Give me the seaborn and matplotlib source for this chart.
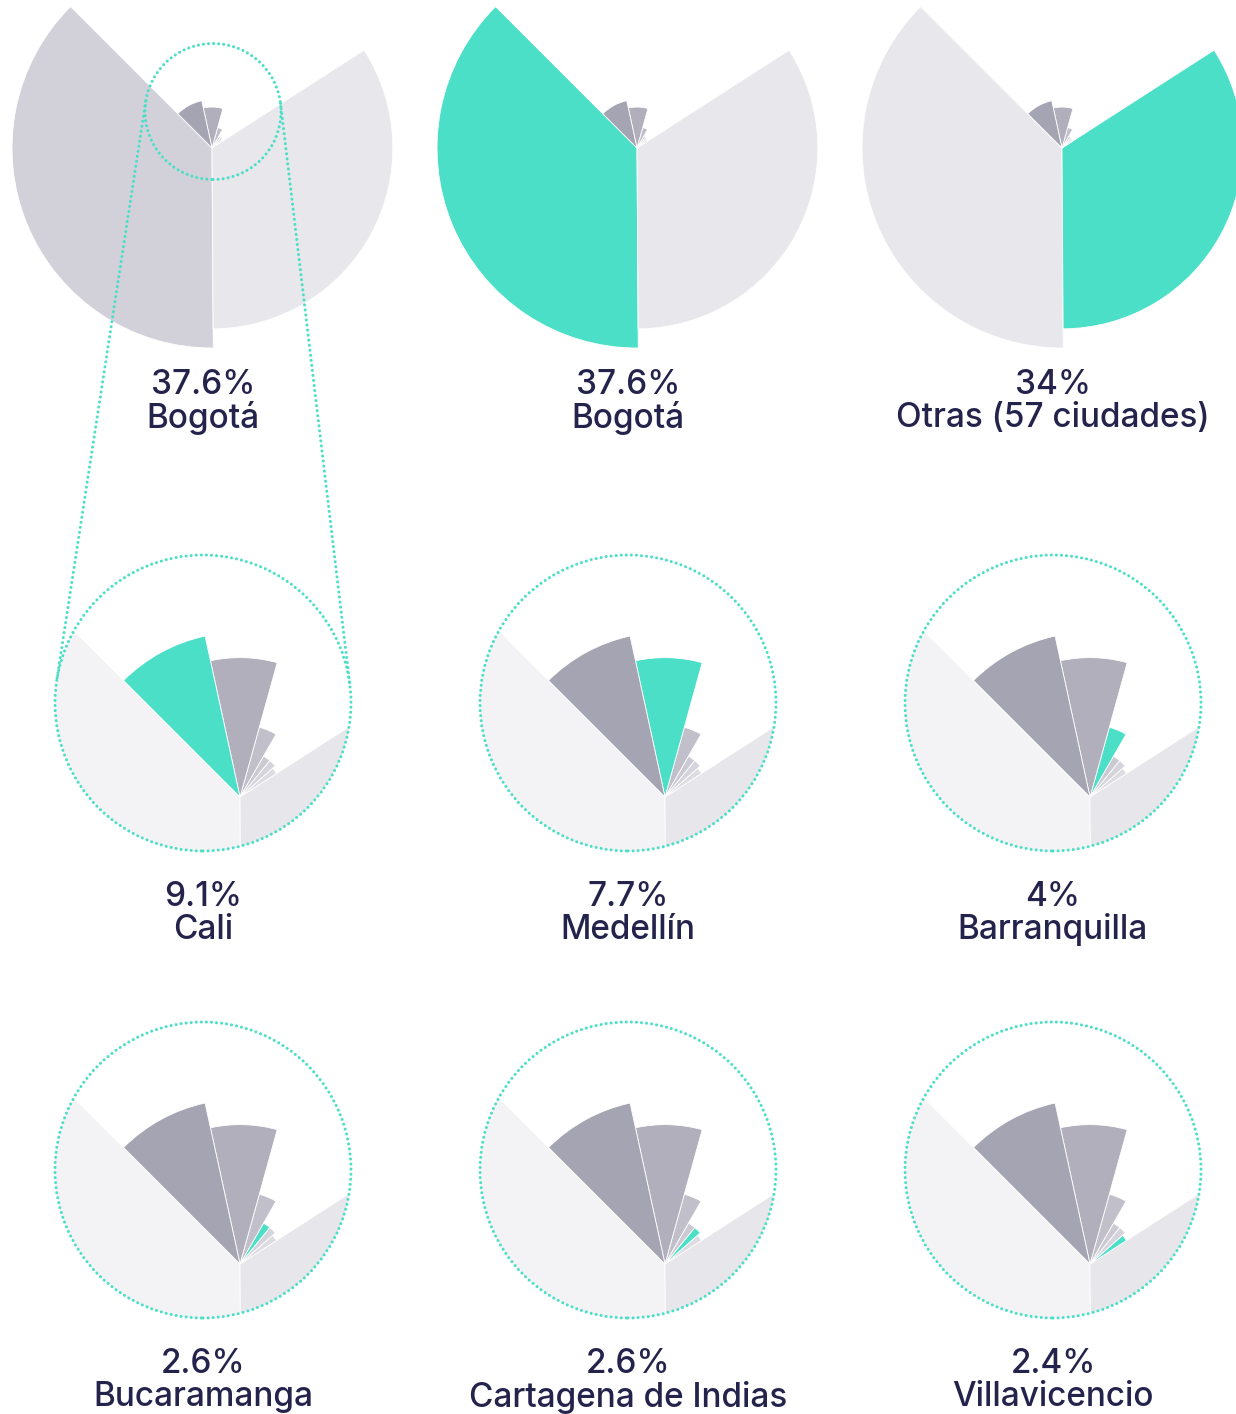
import numpy as np
import matplotlib
matplotlib.use("Agg")
import matplotlib.pyplot as plt
from matplotlib.patches import Wedge, Circle
import seaborn as sns

# share of companies by city (%)
cities = ["Bogotá", "Otras (57 ciudades)", "Cali", "Medellín", "Barranquilla",
          "Bucaramanga", "Cartagena de Indias", "Villavicencio"]
shares = [37.6, 34, 9.1, 7.7, 4, 2.6, 2.6, 2.4]

# order of the slices, counter-clockwise starting at the north-west
rose_order = ["Bogotá", "Otras (57 ciudades)", "Villavicencio", "Cartagena de Indias",
              "Bucaramanga", "Barranquilla", "Medellín", "Cali"]

# which city each panel highlights (None = overview)
panel_city = [None, "Bogotá", "Otras (57 ciudades)",
              "Cali", "Medellín", "Barranquilla",
              "Bucaramanga", "Cartagena de Indias", "Villavicencio"]
panel_label = ["Bogotá", "Bogotá", "Otras (57 ciudades)",
               "Cali", "Medellín", "Barranquilla",
               "Bucaramanga", "Cartagena de Indias", "Villavicencio"]

TEAL = "#4cdfc7"
TEXT = "#24234c"
small_colors = {"Cali": "#a5a4b2", "Medellín": "#b0afbb", "Barranquilla": "#c0bfca",
                "Bucaramanga": "#cbcad3", "Cartagena de Indias": "#d5d4dc",
                "Villavicencio": "#dddce3"}

sns.set_style("white")
plt.rcParams["font.family"] = ["Inter", "DejaVu Sans"]

W, H = 1236, 1414
fig = plt.figure(figsize=(W / 100, H / 100), dpi=100)
ax = fig.add_axes([0, 0, 1, 1])
ax.set_xlim(0, W)
ax.set_ylim(0, H)
ax.set_aspect("equal")
ax.axis("off")

share_of = dict(zip(cities, shares))

# slice angles from the shares
angles = {}
start = 135.0
for c in rose_order:
    span = share_of[c] * 3.6
    angles[c] = (start, start + span)
    start += span

col_x = [203, 628, 1053]
top_px = 200 / 37.6      # px per percent, top row
zoom_px = 18.1           # px per percent, zoomed rows
zoom_r = 148
DOTS = dict(linewidth=2.2, linestyle=(0, (0.01, 1.65)))


def slice_color(city, highlight, zoomed, overview):
    if city == highlight:
        return TEAL
    if city in small_colors:
        return small_colors[city]
    if zoomed:
        return "#f3f3f5" if city == "Bogotá" else "#e7e6eb"
    if overview and city == "Bogotá":
        return "#d2d1da"
    return "#e8e7ec"


def draw_rose(cx, cy, scale, highlight, zoomed, overview, clip=None):
    for c in rose_order:
        t1, t2 = angles[c]
        w = Wedge((cx, cy), share_of[c] * scale, t1, t2,
                  facecolor=slice_color(c, highlight, zoomed, overview),
                  edgecolor="white", linewidth=0.6, zorder=2)
        ax.add_patch(w)
        if clip is not None:
            w.set_clip_path(clip)


def dotted_circle(x, y, r):
    ax.add_patch(Circle((x, y), r, fill=False, edgecolor=TEAL,
                        capstyle="round", zorder=5, **DOTS))


for i, (hl, lab) in enumerate(zip(panel_city, panel_label)):
    row, col = divmod(i, 3)
    cx = col_x[col]
    txt = f"{share_of[lab]:g}%"
    if row == 0:
        draw_rose(cx + 9, H - 148, top_px, hl, False, hl is None)
        ty = 385
    else:
        circ_y = H - (703 if row == 1 else 1170)
        clip = Circle((cx, circ_y), zoom_r, transform=ax.transData)
        draw_rose(cx + 37, circ_y - 94, zoom_px, hl, True, False, clip=clip)
        dotted_circle(cx, circ_y, zoom_r)
        ty = 897 if row == 1 else 1364
    ax.text(cx, H - ty, txt, ha="center", va="center", fontsize=24,
            fontweight="medium", color=TEXT)
    ax.text(cx, H - ty - 33, lab, ha="center", va="center", fontsize=24,
            fontweight="medium", color=TEXT)

# magnifier on the overview + tangent lines down to the Cali panel
c1 = np.array([213.0, H - 111.5])
r1 = 68.0
c2 = np.array([203.0, H - 703.0])
r2 = float(zoom_r)
dotted_circle(c1[0], c1[1], r1)
d = c2 - c1
D = np.hypot(*d)
u = d / D
phi = np.arccos((r1 - r2) / D)
for s in (1, -1):
    a = s * phi
    n = np.array([u[0] * np.cos(a) - u[1] * np.sin(a),
                  u[0] * np.sin(a) + u[1] * np.cos(a)])
    p1 = c1 + r1 * n
    p2 = c2 + r2 * n
    ax.plot([p1[0], p2[0]], [p1[1], p2[1]], color=TEAL,
            dash_capstyle="round", zorder=5, **DOTS)

fig.savefig("out.png", dpi=100, facecolor="white")
